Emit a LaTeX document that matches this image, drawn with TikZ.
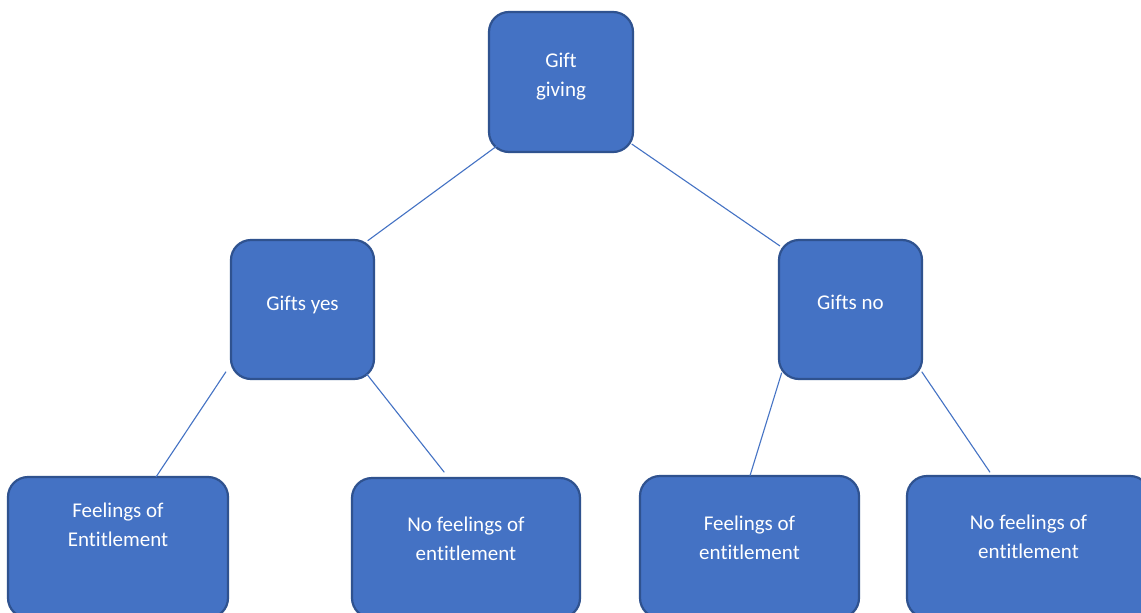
\documentclass[tikz,border=0pt]{standalone}
\usepackage{fontspec}
\setmainfont{Carlito}[Ligatures={NoCommon}]
\usetikzlibrary{calc}
\definecolor{boxfill}{HTML}{4472C4}
\definecolor{boxedge}{HTML}{2F528F}
\definecolor{linkcol}{HTML}{4472C4}
\tikzset{
  box/.style={draw=boxedge, fill=boxfill, line width=2.2pt, rounded corners=20pt,
              inner sep=0pt, outer sep=0pt},
  lbl/.style={text=white, font=\fontsize{21}{29}\selectfont, align=center,
              anchor=base, inner sep=0pt},
  link/.style={draw=linkcol, line width=1.1pt}
}
\begin{document}
\begin{tikzpicture}[x=1pt, y=-1pt]
  \clip (0,0) rectangle (1141,613);
  \fill[white] (0,0) rectangle (1141,613);

  % boxes
  \node[box, minimum width=144pt, minimum height=140pt] (gift) at (561,82) {};
  \node[box, minimum width=143pt, minimum height=139pt] (yes)  at (302.5,309.5) {};
  \node[box, minimum width=143pt, minimum height=139pt] (no)   at (850.5,309.5) {};
  \node[box, minimum width=220pt, minimum height=141pt] (fe1)  at (118,547.5) {};
  \node[box, minimum width=228pt, minimum height=140pt] (nfe1) at (466,548) {};
  \node[box, minimum width=219pt, minimum height=142pt] (fe2)  at (749.5,547) {};
  \node[box, minimum width=243pt, minimum height=142pt] (nfe2) at (1028.5,547) {};

  % labels (base anchor sits on the last line)
  \node[lbl] (tgift) at ($(gift.north)+(0,84)$) {Gift\\giving};
  \node[lbl] (tyes)  at ($(yes.north)+(0,70)$) {Gifts yes};
  \node[lbl] (tno)   at ($(no.north)+(0,69)$) {Gifts no};
  \node[lbl] (tfe1)  at ($(fe1.north)+(0,69)$) {Feelings of\\Entitlement};
  \node[lbl] (tnfe1) at ($(nfe1.north)+(0,82)$) {No feelings of\\entitlement};
  \node[lbl] (tfe2)  at ($(fe2.north)+(0,83)$) {Feelings of\\entitlement};
  \node[lbl] (tnfe2) at ($(nfe2.north)+(0,82)$) {No feelings of\\entitlement};

  % connectors
  \draw[link] ($(gift.south west)+(8.3,-6.3)$) -- ($(yes.north east)+(-6.3,0.7)$);
  \draw[link] ($(gift.south east)+(-1.3,-8)$) -- ($(no.north west)+(1,6)$);
  \draw[link] ($(yes.south west)+(-5,-7.3)$) -- ($(fe1.north)+(38,0)$);
  \draw[link] ($(yes.south east)+(-7.3,-5)$) -- ($(nfe1.north)+(-21.7,-5.7)$);
  \draw[link] ($(no.south west)+(2.7,-6.3)$) -- ($(fe2.north)+(0.5,-0.3)$);
  \draw[link] ($(no.south east)+(-0.3,-7.3)$) -- ($(nfe2.north)+(-38.5,-3.7)$);
\end{tikzpicture}
\end{document}
